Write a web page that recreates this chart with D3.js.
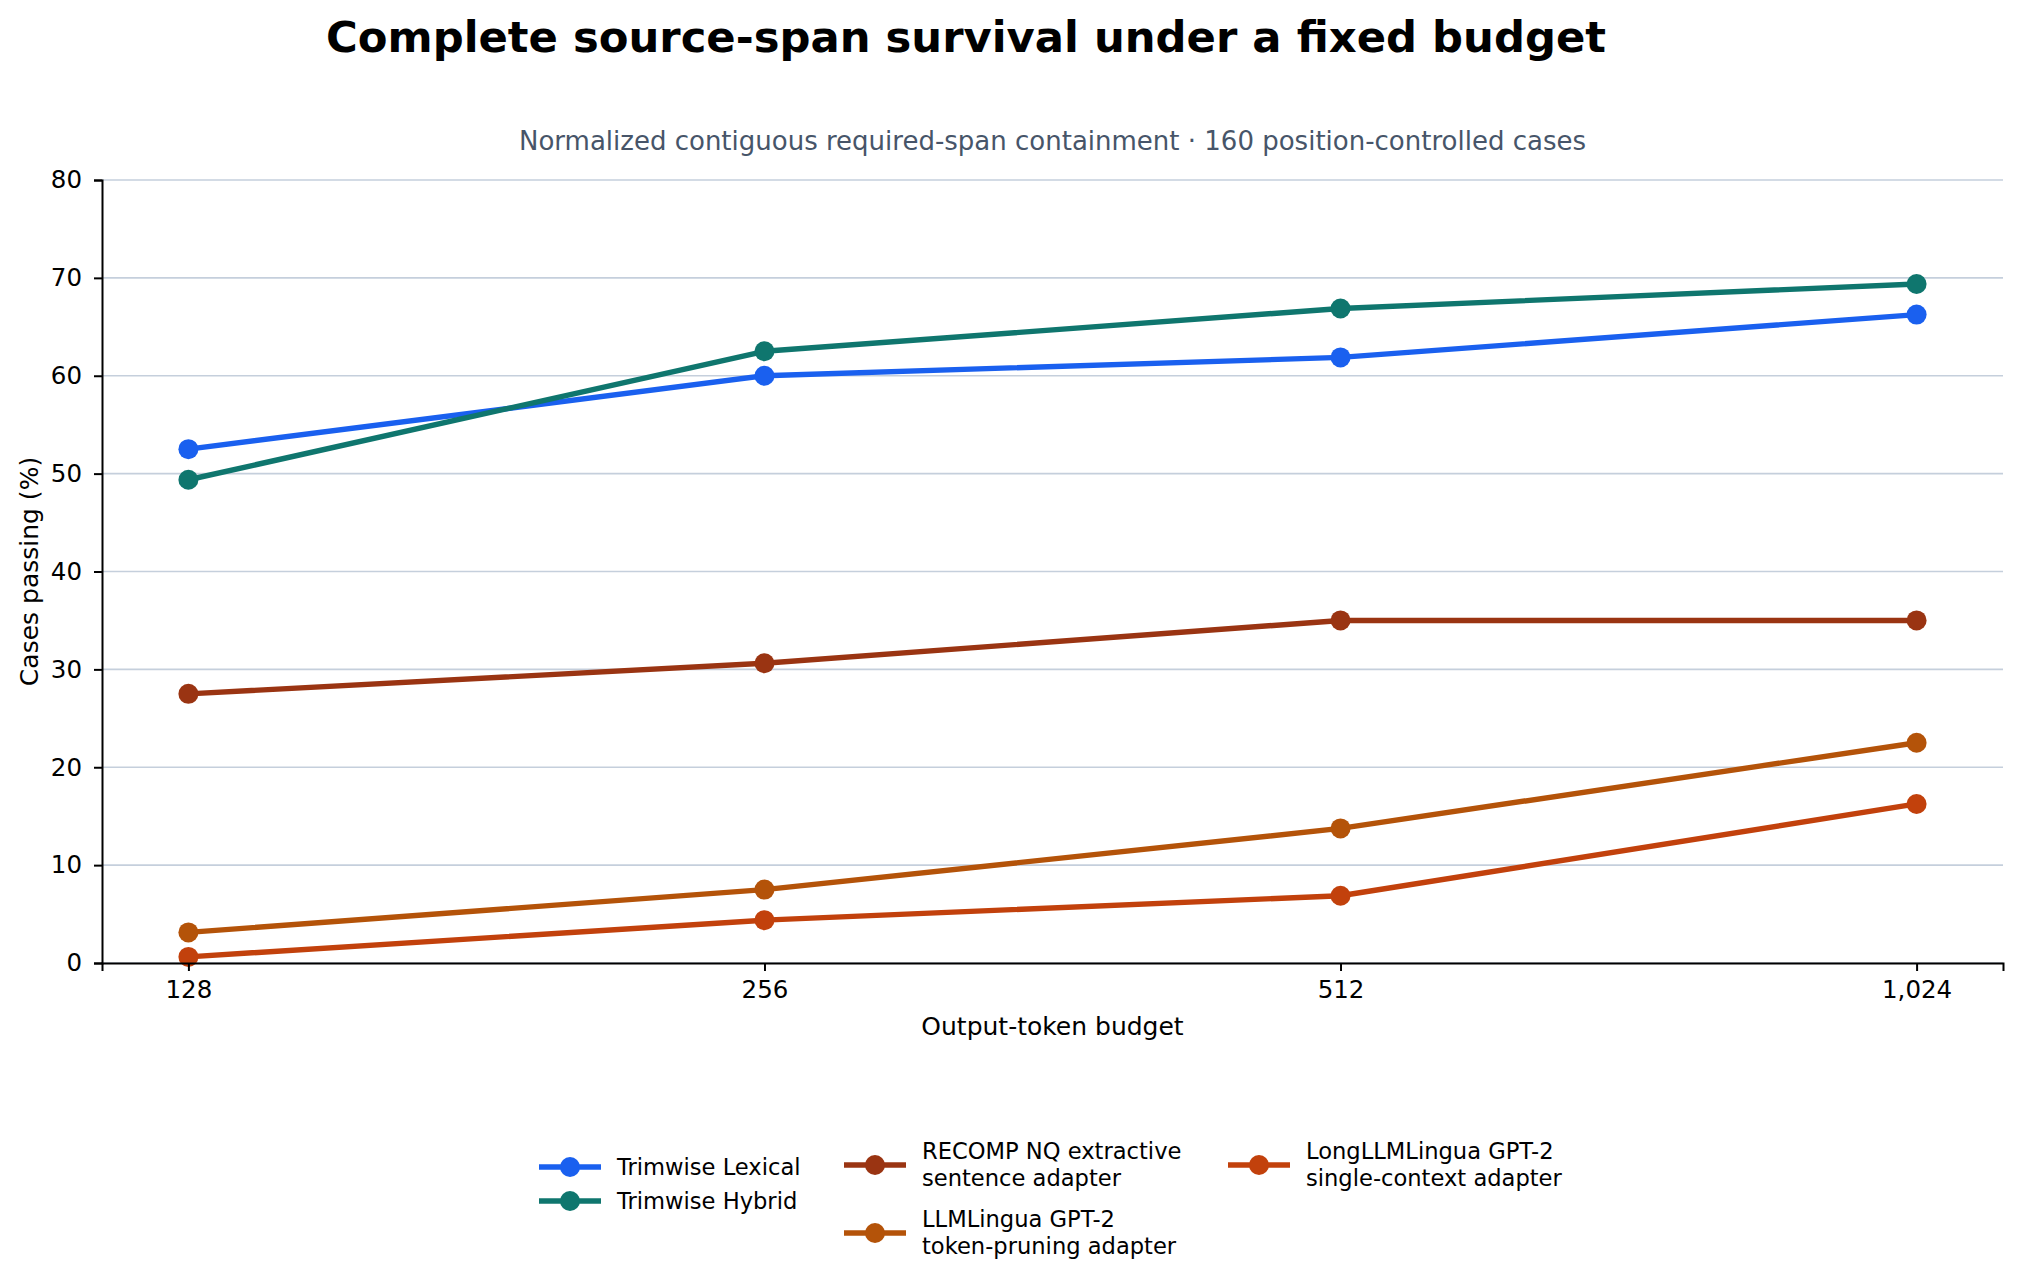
<!DOCTYPE html>
<html>
<head>
<meta charset="utf-8">
<script src="https://cdn.jsdelivr.net/npm/d3@7"></script>
<style>
  body { margin: 0; background: #fff; }
  text { font-family: "DejaVu Sans", sans-serif; }
</style>
</head>
<body>
<div class="chart"></div>
<script>
// Data
var budgets = [128, 256, 512, 1024];
var lexical = [52.5, 60.0, 61.875, 66.25];
var hybrid = [49.375, 62.5, 66.875, 69.375];
var recomp = [27.5, 30.625, 35.0, 35.0];
var llmlingua = [3.125, 7.5, 13.75, 22.5];
var longllmlingua = [0.625, 4.375, 6.875, 16.25];
var yTicks = [0, 10, 20, 30, 40, 50, 60, 70, 80];

var seriesLabels = [
  ["Trimwise Lexical"],
  ["Trimwise Hybrid"],
  ["RECOMP NQ extractive", "sentence adapter"],
  ["LLMLingua GPT-2", "token-pruning adapter"],
  ["LongLLMLingua GPT-2", "single-context adapter"]
];
var seriesValues = [lexical, hybrid, recomp, llmlingua, longllmlingua];
var colors = ["#1a60ef", "#0f766e", "#9a3412", "#b45309", "#c2410c"];

var svgWidth = 2021;
var svgHeight = 1286;
var margin = { top: 180, right: 18, bottom: 323, left: 102 };
var width = svgWidth - margin.left - margin.right;
var height = svgHeight - margin.top - margin.bottom;

var svg = d3.select(".chart")
  .append("svg")
  .attr("width", svgWidth)
  .attr("height", svgHeight);

var chartGroup = svg.append("g")
  .attr("transform", `translate(${margin.left}, ${margin.top})`);

// scales (log2 x with matplotlib-like 5% margins)
var pad = 0.05 * Math.log2(budgets[budgets.length - 1] / budgets[0]);
var xScale = d3.scaleLog().base(2)
  .domain([budgets[0] / Math.pow(2, pad), budgets[budgets.length - 1] * Math.pow(2, pad)])
  .range([0, width]);

var yScale = d3.scaleLinear()
  .domain([0, 80])
  .range([height, 0]);

// gridlines
chartGroup.append("g")
  .selectAll("line")
  .data(yTicks)
  .enter()
  .append("line")
  .attr("x1", 0)
  .attr("x2", width)
  .attr("y1", d => yScale(d))
  .attr("y2", d => yScale(d))
  .attr("stroke", "#c5cfdc")
  .attr("stroke-width", 1.6);

// series
var line = d3.line()
  .x((d, i) => xScale(budgets[i]))
  .y(d => yScale(d));

seriesValues.forEach(function(vals, s) {
  chartGroup.append("path")
    .datum(vals)
    .attr("d", line)
    .attr("fill", "none")
    .attr("stroke", colors[s])
    .attr("stroke-width", 5.4)
    .attr("stroke-linejoin", "round");
  chartGroup.selectAll(".pt" + s)
    .data(vals)
    .enter()
    .append("circle")
    .attr("cx", (d, i) => xScale(budgets[i]))
    .attr("cy", d => yScale(d))
    .attr("r", 10)
    .attr("fill", colors[s]);
});

// axes
var xAxis = d3.axisBottom(xScale)
  .tickValues(budgets)
  .tickFormat(d3.format(","))
  .tickSizeOuter(0)
  .tickSize(8)
  .tickPadding(10);
var yAxis = d3.axisLeft(yScale)
  .tickValues(yTicks)
  .tickSizeOuter(0)
  .tickSize(8)
  .tickPadding(12);

var gx = chartGroup.append("g")
  .attr("transform", `translate(0, ${height})`)
  .call(xAxis);
var gy = chartGroup.append("g")
  .call(yAxis);

[gx, gy].forEach(function(g) {
  g.selectAll("path, line").attr("stroke", "#000").attr("stroke-width", 2);
  g.selectAll("text")
    .attr("font-family", "DejaVu Sans")
    .attr("font-size", 24.5)
    .attr("fill", "#000");
});

// axis labels
chartGroup.append("text")
  .attr("transform", "rotate(-90)")
  .attr("x", -height / 2)
  .attr("y", 29 - margin.left)
  .attr("dy", "0.35em")
  .attr("text-anchor", "middle")
  .attr("font-size", 25)
  .text("Cases passing (%)");

chartGroup.append("text")
  .attr("x", width / 2)
  .attr("y", height + 63)
  .attr("dy", "0.35em")
  .attr("text-anchor", "middle")
  .attr("font-size", 25)
  .text("Output-token budget");

// titles
svg.append("text")
  .attr("x", 966)
  .attr("y", 52)
  .attr("text-anchor", "middle")
  .attr("font-size", 43.3)
  .attr("font-weight", "bold")
  .text("Complete source-span survival under a fixed budget");

svg.append("text")
  .attr("x", margin.left + width / 2)
  .attr("y", 150)
  .attr("text-anchor", "middle")
  .attr("font-size", 26)
  .attr("fill", "#475569")
  .text("Normalized contiguous required-span containment \u00b7 160 position-controlled cases");

// legend: three columns
var legendCols = [[0, 1], [2, 3], [4]];
var colX = [539, 844, 1228];
var legendTop = 1150;

legendCols.forEach(function(items, c) {
  var y = legendTop;
  items.forEach(function(s) {
    var nLines = seriesLabels[s].length;
    var h = nLines === 1 ? 34 : 68;
    var cy = y + (nLines === 1 ? 17 : 15);
    var g = svg.append("g").attr("transform", `translate(${colX[c]}, ${cy})`);
    g.append("line")
      .attr("x1", 0).attr("x2", 62)
      .attr("stroke", colors[s])
      .attr("stroke-width", 5.4);
    g.append("circle")
      .attr("cx", 31)
      .attr("r", 10)
      .attr("fill", colors[s]);
    var t = g.append("text")
      .attr("x", 78)
      .attr("font-size", 22.6)
      .attr("fill", "#000");
    seriesLabels[s].forEach(function(str, k) {
      t.append("tspan")
        .attr("x", 78)
        .attr("y", (k - (nLines - 1) / 2) * 27)
        .attr("dy", "0.35em")
        .text(str);
    });
    y += h;
  });
});
</script>
</body>
</html>
